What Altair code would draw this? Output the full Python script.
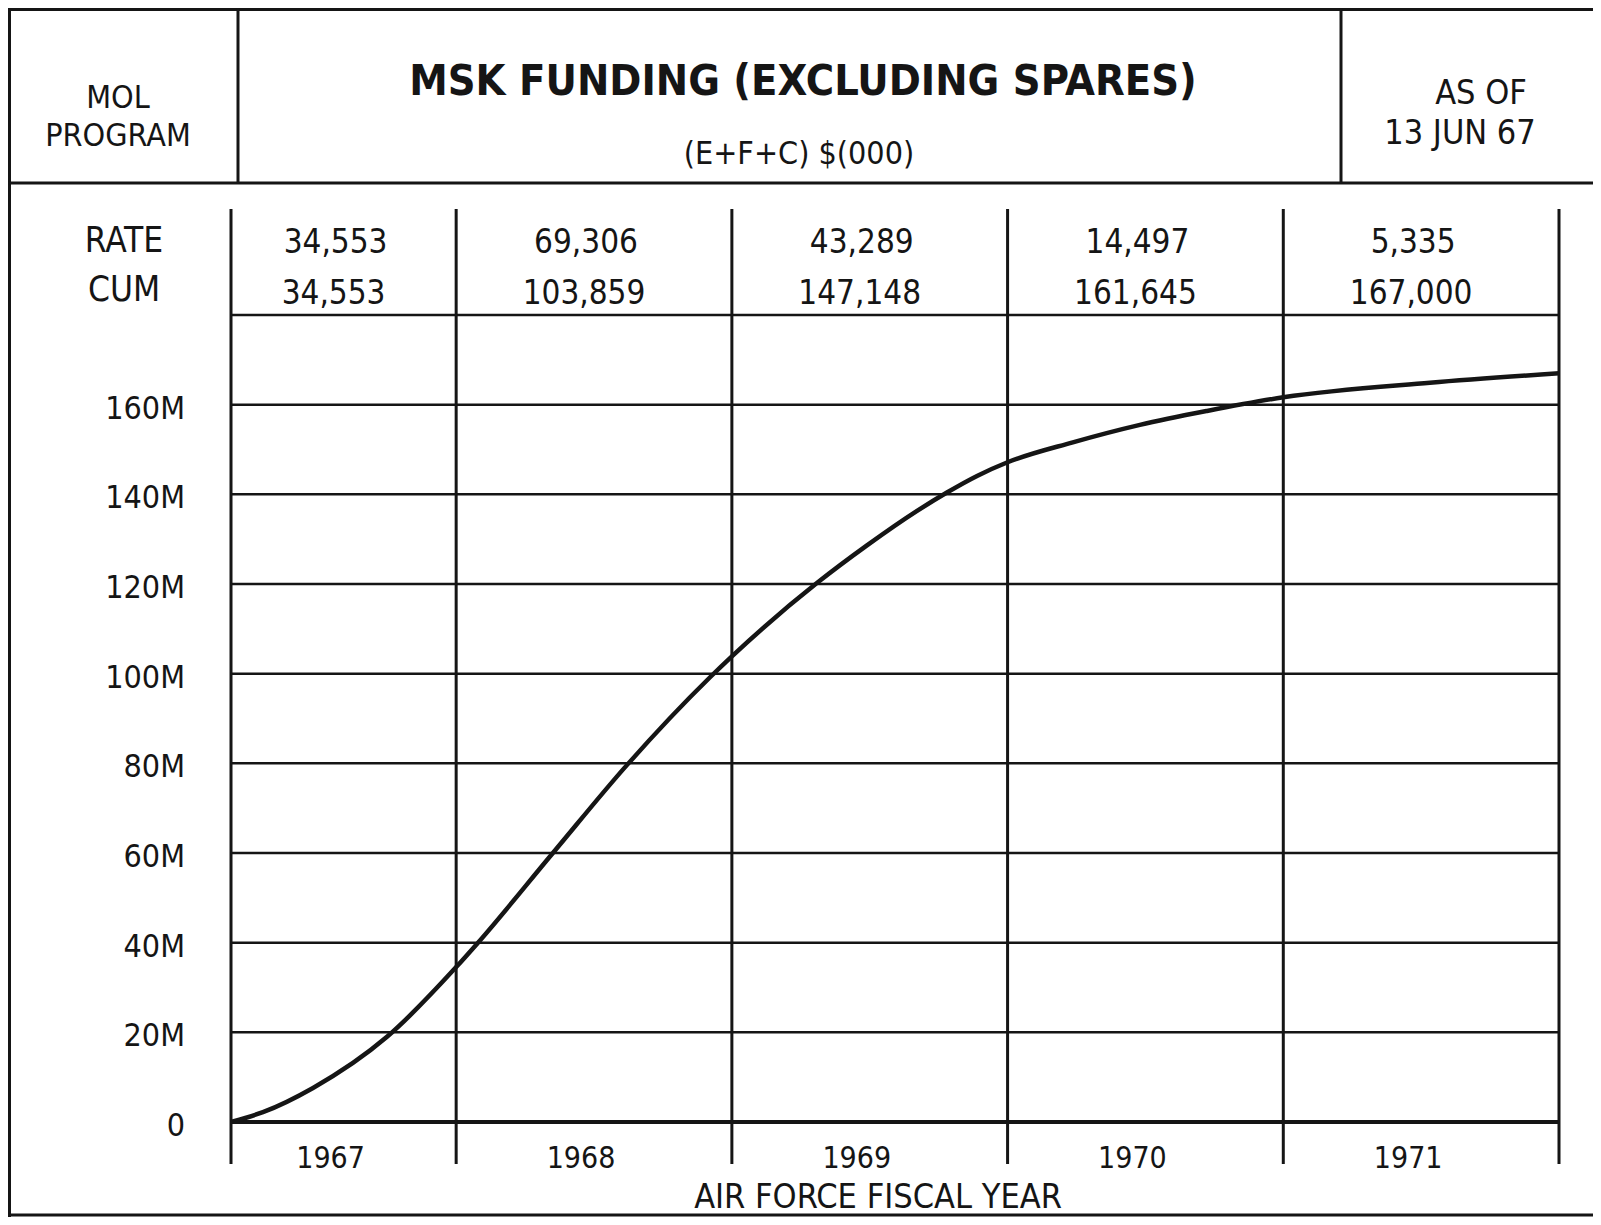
import altair as alt
import pandas as pd

# ---------------- data ----------------
years = ["1967", "1968", "1969", "1970", "1971"]
# fiscal-year boundaries, months from start of FY1967 (chart starts part-way into FY67)
year_bounds = [2.2, 12.0, 24.0, 36.0, 48.0, 60.0]
rate_labels = ["34,553", "69,306", "43,289", "14,497", "5,335"]
cum_labels = ["34,553", "103,859", "147,148", "161,645", "167,000"]

curve_month = [2.2, 3.59, 5.77, 8.99, 12.0, 12.95, 16.21, 19.43, 23.05, 24.0,
               27.7, 29.88, 32.06, 33.36, 34.67, 36.0, 38.84, 41.76, 44.68,
               48.0, 54.38, 60.0]
curve_cum = [0, 2200, 7600, 19000, 34553, 40000, 60000, 79600, 99200, 103859,
             120200, 128600, 136300, 140400, 144100, 147148, 151600, 155500,
             158600, 161645, 164900, 167000]

grid_values = [0, 20000, 40000, 60000, 80000, 100000, 120000, 140000, 160000, 180000]
grid_labels = ["0", "20M", "40M", "60M", "80M", "100M", "120M", "140M", "160M", ""]

# ---------------- styling ----------------
FONT = "'Liberation Sans Narrow', 'DejaVu Sans Condensed', 'Roboto', sans-serif"
INK = "#151515"
W, H = 1585, 1209

xscale = alt.Scale(domain=[year_bounds[0], year_bounds[-1]], range=[223, 1551], nice=False, zero=False)
yscale = alt.Scale(domain=[0, 180000], range=[1114, 307], nice=False, zero=False)

dummy = pd.DataFrame({"a": [0]})


def frame_rule(x1, y1, x2, y2, w=3):
    return alt.Chart(dummy).mark_rule(color=INK, strokeWidth=w).encode(
        x=alt.value(x1), x2=alt.value(x2), y=alt.value(y1), y2=alt.value(y2)
    )


def label(txt, x, y, size, weight="normal", align="center"):
    return alt.Chart(dummy).mark_text(
        text=txt, font=FONT, fontSize=size, fontWeight=weight, color=INK,
        align=align, baseline="middle"
    ).encode(x=alt.value(x), y=alt.value(y))


# frame / header box
frames = [
    frame_rule(1.5, 0, 1.5, 1209),          # left border
    frame_rule(0, 1.5, W, 1.5),             # top border
    frame_rule(0, 175, W, 175),             # header bottom
    frame_rule(230, 0, 230, 175),           # header divider left
    frame_rule(1333, 0, 1333, 175),         # header divider right
    frame_rule(0, 1207, W, 1207),           # bottom border
]

texts = [
    label("MOL", 110, 90, 32),
    label("PROGRAM", 110, 128, 32),
    label("MSK FUNDING (EXCLUDING SPARES)", 795, 74, 43, weight="bold"),
    label("(E+F+C) $(000)", 791, 146, 32),
    label("AS OF", 1473, 86, 34),
    label("13 JUN 67", 1452, 126, 34),
    label("RATE", 116, 233, 35),
    label("CUM", 116, 282, 35),
    label("AIR FORCE FISCAL YEAR", 870, 1190, 34),
]

# grid lines
grid_df = pd.DataFrame({
    "v": grid_values,
    "lab": grid_labels,
    "x0": [year_bounds[0]] * len(grid_values),
    "x1": [year_bounds[-1]] * len(grid_values),
    "w": [4 if v == 0 else 2.5 for v in grid_values],
})
grid = alt.Chart(grid_df).mark_rule(color=INK).encode(
    y=alt.Y("v:Q", scale=yscale, axis=None),
    x=alt.X("x0:Q", scale=xscale, axis=None),
    x2="x1:Q",
    strokeWidth=alt.StrokeWidth("w:Q", scale=None, legend=None),
)

ylabels = alt.Chart(grid_df).mark_text(
    font=FONT, fontSize=32, color=INK, align="right", baseline="middle", dy=4
).encode(
    y=alt.Y("v:Q", scale=yscale, axis=None),
    x=alt.value(177),
    text="lab:N",
)

# year dividers
div_df = pd.DataFrame({"b": year_bounds})
dividers = alt.Chart(div_df).mark_rule(color=INK, strokeWidth=3).encode(
    x=alt.X("b:Q", scale=xscale, axis=None),
    y=alt.value(201),
    y2=alt.value(1156),
)

# column labels (rate, cum, years)
col_df = pd.DataFrame({
    "mid": [(year_bounds[i] + year_bounds[i + 1]) / 2 for i in range(len(years))],
    "year": years,
    "rate": rate_labels,
    "cum": cum_labels,
})
rate_txt = alt.Chart(col_df).mark_text(
    font=FONT, fontSize=33, color=INK, baseline="middle", dx=-8
).encode(x=alt.X("mid:Q", scale=xscale, axis=None), y=alt.value(235), text="rate:N")
cum_txt = alt.Chart(col_df).mark_text(
    font=FONT, fontSize=33, color=INK, baseline="middle", dx=-10
).encode(x=alt.X("mid:Q", scale=xscale, axis=None), y=alt.value(286), text="cum:N")
year_txt = alt.Chart(col_df).mark_text(
    font=FONT, fontSize=30, color=INK, baseline="middle", dx=-13
).encode(x=alt.X("mid:Q", scale=xscale, axis=None), y=alt.value(1151), text="year:N")

# cumulative funding curve
curve_df = pd.DataFrame({"month": curve_month, "cum": curve_cum})
curve = alt.Chart(curve_df).mark_line(
    color=INK, strokeWidth=4.5, interpolate="monotone"
).encode(
    x=alt.X("month:Q", scale=xscale, axis=None),
    y=alt.Y("cum:Q", scale=yscale, axis=None),
)

chart = alt.layer(
    *frames, grid, dividers, curve, ylabels, rate_txt, cum_txt, year_txt, *texts
).properties(
    width=W, height=H,
    autosize=alt.AutoSizeParams(type="none"),
    padding=0,
    background="white",
).configure_view(stroke=None)

chart.save("out.html", embed_options={"renderer": "svg", "actions": False})
